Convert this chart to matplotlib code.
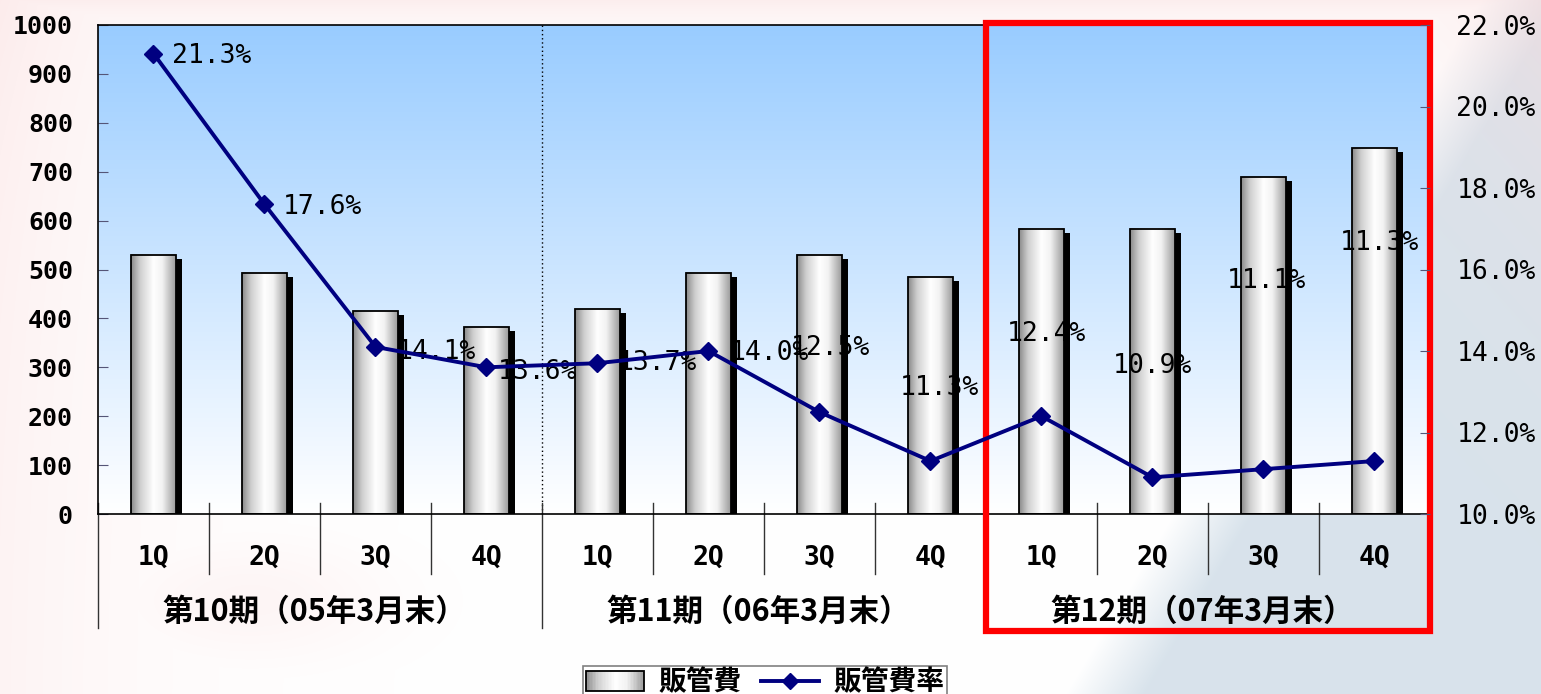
import numpy as np
import matplotlib
matplotlib.use("Agg")
import matplotlib.pyplot as plt
from matplotlib.colors import LinearSegmentedColormap
from matplotlib.patches import Rectangle
from matplotlib.lines import Line2D
from matplotlib.legend_handler import HandlerBase
from matplotlib.transforms import blended_transform_factory

# quarterly data
quarters = ["1Q", "2Q", "3Q", "4Q"] * 3
periods = ["第10期（05年3月末）", "第11期（06年3月末）", "第12期（07年3月末）"]
sga_cost = [530, 493, 415, 382, 419, 493, 530, 485, 583, 583, 689, 748]
sga_ratio = [21.3, 17.6, 14.1, 13.6, 13.7, 14.0, 12.5, 11.3, 12.4, 10.9, 11.1, 11.3]
ratio_ticks = [10, 12, 14, 16, 18, 20, 22]

# label offsets in pixels (dx, dy) from each marker
label_offsets = [(58, -2), (58, -3), (61, -5), (51, -5), (60, 0), (61, -2),
                 (11, 64), (9, 73), (5, 82), (0, 111), (3, 188), (5, 218)]

MONO = ["DejaVu Sans Mono"]
JP = ["Noto Sans CJK JP", "DejaVu Sans"]
NAVY = "#000080"

W, H = 1541, 694
fig = plt.figure(figsize=(W / 100, H / 100), dpi=100)

# soft slide background
bg_ax = fig.add_axes([0, 0, 1, 1], zorder=-10)
yy, xx = np.mgrid[0:H, 0:W].astype(float)
bg = np.ones((H, W, 3))
pink = np.array([0.98, 0.85, 0.85])
gblue = np.array([0.82, 0.87, 0.91])
w_blue = np.clip((xx + 0.6 * yy - 1480) / 80, 0, 1) * 0.85
w_pink = np.maximum.reduce([
    0.5 * np.exp(-xx / 160) * (0.6 + 0.4 * np.exp(-yy / 200)),
    0.45 * np.exp(-yy / 30),
    0.55 * np.exp(-(W - xx) / 160) * np.exp(-yy / 180),
    0.25 * np.exp(-((xx - 250) ** 2) / 2e4 - ((yy - 600) ** 2) / 4e3),
])
for c in range(3):
    bg[..., c] = bg[..., c] * (1 - w_blue) + gblue[c] * w_blue
    bg[..., c] = bg[..., c] * (1 - w_pink) + pink[c] * w_pink
bg_ax.imshow(bg, aspect="auto", extent=[0, 1, 0, 1])
bg_ax.axis("off")

ax = fig.add_axes([98 / W, 1 - 514 / H, 1332 / W, 489 / H])
ax2 = ax.twinx()
ax.set_zorder(1)
ax2.set_zorder(2)
ax.patch.set_visible(False)

x = np.arange(len(sga_cost))
ax.set_xlim(-0.5, len(sga_cost) - 0.5)
ax.set_ylim(0, 1000)
ax2.set_ylim(ratio_ticks[0], ratio_ticks[-1])

# plot area gradient (light blue to white)
sky = LinearSegmentedColormap.from_list("sky", ["#ffffff", "#99ccff"])
ax.imshow(np.linspace(0, 1, 256)[:, None], cmap=sky, origin="lower", aspect="auto",
          extent=[-0.5, len(sga_cost) - 0.5, 0, 1000], zorder=0)

# cylinder-like bars
metal = LinearSegmentedColormap.from_list(
    "metal", [(0, "#8a8a8a"), (0.2, "#cfcfcf"), (0.5, "#ffffff"), (0.7, "#f2f2f2"), (1, "#9a9a9a")])
bw = 0.405
grad = np.linspace(0, 1, 128)[None, :]
for xi, h in zip(x, sga_cost):
    ax.imshow(grad, cmap=metal, aspect="auto", extent=[xi - bw / 2, xi + bw / 2, 0, h],
              zorder=2, interpolation="bicubic")
ax.bar(x, sga_cost, width=bw, fill=False, edgecolor="black", linewidth=1.3, zorder=2.5)
# drop shadow strip on the right of each bar
sw, sd = 0.055, 8
ax.bar(x + bw / 2 + sw / 2, np.array(sga_cost) - sd, width=sw, color="black",
       linewidth=0, zorder=4)
ax.set_xlim(-0.5, len(sga_cost) - 0.5)
ax.set_ylim(0, 1000)

# ratio line
ax2.plot(x, sga_ratio, color=NAVY, linewidth=2.8, marker="D", markersize=9, zorder=5)
for xi, v, (dx, dy) in zip(x, sga_ratio, label_offsets):
    ax.annotate(f"{v:.1f}%", xy=(xi, v), xycoords=ax2.transData,
                xytext=(dx * 0.72, dy * 0.72), textcoords="offset points",
                ha="center", va="center", fontsize=19, family=MONO, zorder=3)

# dotted dividers between periods
for b in [3.5, 7.5]:
    ax.axvline(b, color="black", linestyle=(0, (1, 2)), linewidth=1, zorder=1)

# axes styling
for s in ["left", "top", "bottom"]:
    ax.spines[s].set_color("black")
    ax.spines[s].set_linewidth(1.2)
for s in ax2.spines.values():
    s.set_visible(False)
ax.set_xticks([])
ax.set_yticks(range(0, 1001, 100))
ax.tick_params(axis="y", direction="in", length=7, color="#555577", pad=18)
for lab in ax.get_yticklabels():
    lab.set_fontfamily(MONO)
    lab.set_fontweight("bold")
    lab.set_fontsize(18)
ax2.set_yticks(ratio_ticks)
ax2.set_yticklabels([f"{t:.1f}%" for t in ratio_ticks], family=MONO, fontsize=19)
ax2.tick_params(axis="y", direction="in", length=7, color="#555577", pad=19)

# category axis: quarter labels, period labels and separators
tr = blended_transform_factory(ax.transData, ax.transAxes)
for xi, q in zip(x, quarters):
    ax.text(xi, -0.09, q, transform=tr, ha="center", va="center", fontsize=19,
            fontweight="bold", family=MONO)
for k, p in enumerate(periods):
    ax.text(4 * k + 1.45, -0.2, p, transform=tr, ha="center", va="center", fontsize=22,
            fontweight="bold", family=JP)
for b in np.arange(-0.5, len(sga_cost), 1.0):
    bottom = -0.233 if (b + 0.5) % 4 == 0 else -0.123
    ax.plot([b, b], [0.0225, bottom], transform=tr, color="#333333", linewidth=1,
            clip_on=False, zorder=1)

# highlight box around the latest period
ax.add_patch(Rectangle((7.5, -0.24), 4.0, 1.245, transform=tr, fill=False,
                       edgecolor="#ff0000", linewidth=4.5, clip_on=False, zorder=10))


class GradientHandler(HandlerBase):
    def create_artists(self, legend, orig_handle, xdescent, ydescent, width, height,
                       fontsize, trans):
        n = 40
        arts = []
        for k in range(n):
            arts.append(Rectangle((-xdescent + k * width / n, -ydescent), width / n, height,
                                  facecolor=metal((k + 0.5) / n), linewidth=0, transform=trans))
        arts.append(Rectangle((-xdescent, -ydescent), width, height, fill=False,
                              edgecolor="black", linewidth=1.3, transform=trans))
        return arts


bar_proxy = Rectangle((0, 0), 1, 1)
line_proxy = Line2D([], [], color=NAVY, linewidth=2.8, marker="D", markersize=8)
leg = fig.legend([bar_proxy, line_proxy], ["販管費", "販管費率"], ncol=2,
                 loc="upper center", bbox_to_anchor=(765 / W, 1 - 652 / H),
                 handler_map={bar_proxy: GradientHandler()},
                 prop={"family": JP, "weight": "bold", "size": 20},
                 frameon=True, fancybox=False, edgecolor="#808080", framealpha=1,
                 handlelength=2.1, handletextpad=0.5, columnspacing=0.7,
                 borderpad=0.1)
leg.get_frame().set_linewidth(1.2)

fig.savefig("out.png", dpi=100)
